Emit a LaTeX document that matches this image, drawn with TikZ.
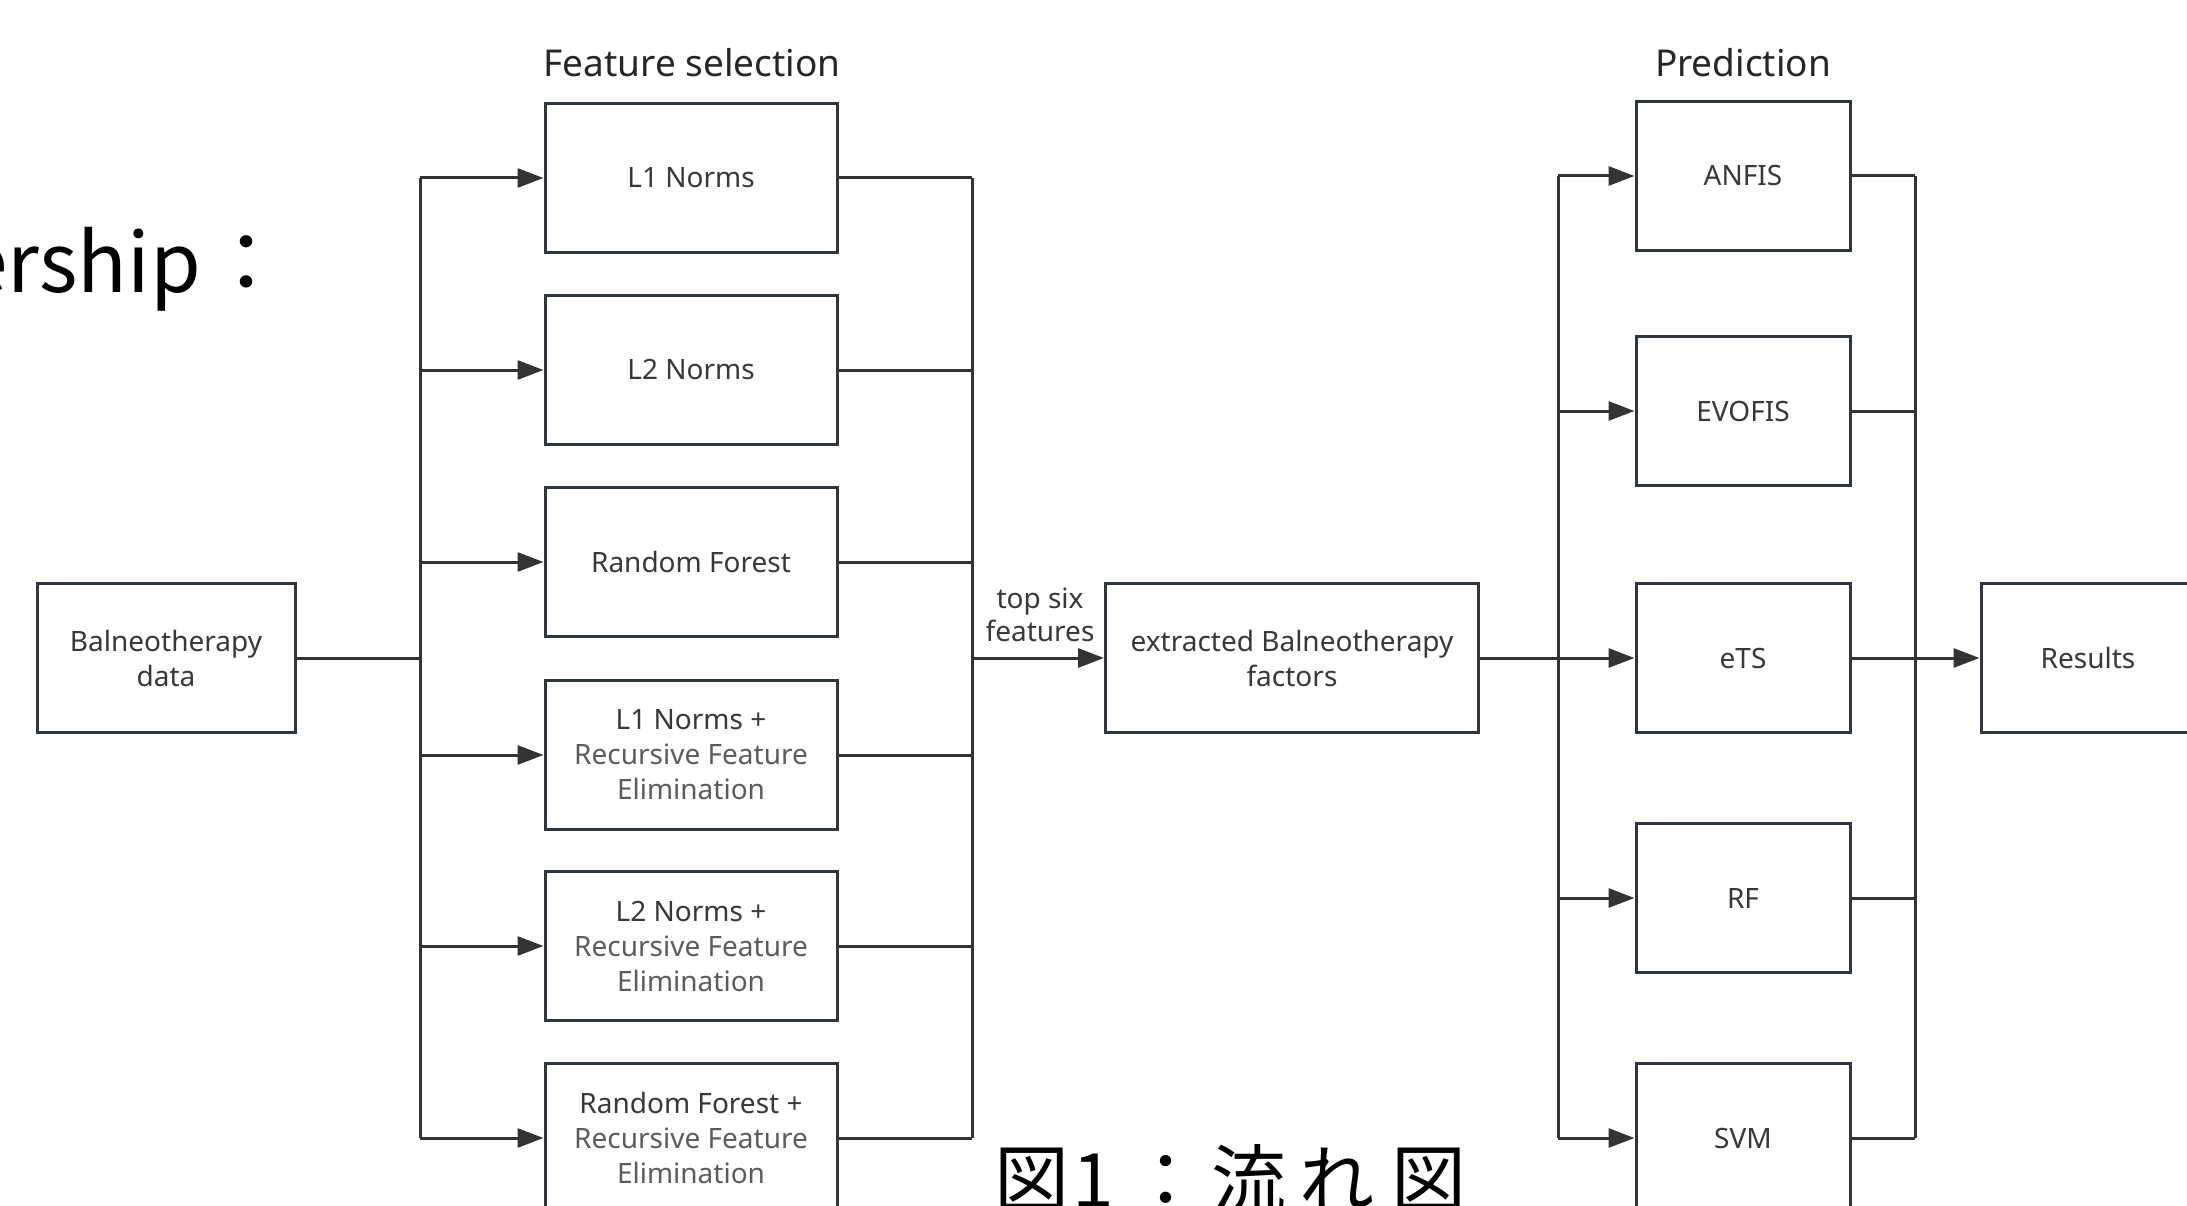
\documentclass[tikz,border=0pt]{standalone}
\usepackage{fontspec}
\setmainfont{Noto Sans}
\newfontfamily\cjk{Noto Sans CJK JP}
\usetikzlibrary{arrows.meta}
\definecolor{linec}{HTML}{333333}
\definecolor{boxc}{HTML}{30363D}
\definecolor{txtc}{HTML}{383838}
\definecolor{txtl}{HTML}{5C5C5C}
\begin{document}
\begin{tikzpicture}[x=1pt,y=-1pt,
  box/.style={draw=boxc,line width=3pt,fill=white,inner sep=0pt,align=center,text=txtc,font=\fontsize{28}{35}\selectfont},
  fbox/.style={box,minimum width=292pt,minimum height=149pt},
  pbox/.style={box,minimum width=214pt,minimum height=149pt},
  conn/.style={draw=linec,line width=3pt},
  arr/.style={conn,-{Triangle[length=26pt,width=19pt]}},
  hdr/.style={font=\fontsize{37}{42}\selectfont,text=black!85,inner sep=0pt},
  bigtxt/.style={text=black,inner sep=0pt}]
\useasboundingbox (0,0) rectangle (2187,1206);
\clip (0,0) rectangle (2187,1206);
\fill[white] (0,0) rectangle (2187,1206);

% big document text (cropped)
\node[bigtxt,font=\cjk\fontsize{82}{90}\selectfont,anchor=base east] (doc1) at (288,293) {ership\hspace{5pt}：};
\node[bigtxt,font=\cjk\fontsize{75}{80}\selectfont,anchor=base west] (doc2) at (994,1207)
  {図\hspace{3pt}1\hspace{15pt}：\hspace{8pt}流\hspace{13pt}れ\hspace{17pt}図};

% headers
\node[hdr] (hfs) at (692,63) {Feature selection};
\node[hdr] (hpr) at (1743,63) {Prediction};

% nodes
\node[box,minimum width=258pt,minimum height=149pt] (bal) at (166,658) {Balneotherapy\\data};
\node[fbox] (f1) at (691,178) {L1 Norms};
\node[fbox] (f2) at (691,370) {L2 Norms};
\node[fbox] (f3) at (691,562) {Random Forest};
\node[fbox] (f4) at (691,755) {L1 Norms +\\\textcolor{txtl}{Recursive Feature}\\\textcolor{txtl}{Elimination}};
\node[fbox] (f5) at (691,946) {L2 Norms +\\\textcolor{txtl}{Recursive Feature}\\\textcolor{txtl}{Elimination}};
\node[fbox] (f6) at (691,1138) {Random Forest +\\\textcolor{txtl}{Recursive Feature}\\\textcolor{txtl}{Elimination}};
\node[box,minimum width=373pt,minimum height=149pt] (ext) at (1292,658) {extracted Balneotherapy\\factors};
\node[pbox] (p1) at (1743,176) {ANFIS};
\node[pbox] (p2) at (1743,411) {EVOFIS};
\node[pbox] (p3) at (1743,658) {eTS};
\node[pbox] (p4) at (1743,898) {RF};
\node[pbox] (p5) at (1743,1138) {SVM};
\node[pbox] (res) at (2088,658) {Results};

\coordinate (lb) at (420,658);
\coordinate (rb) at (972,658);
\coordinate (pl) at (1558,658);
\coordinate (pr) at (1915,658);

% feature selection fan-out
\draw[conn] (bal.east) -- (lb);
\draw[conn] (lb |- f1.west) -- (lb |- f6.west);
\foreach \n in {f1,f2,f3,f4,f5,f6}{
  \draw[arr] (lb |- \n.west) -- (\n.west);
  \draw[conn] (\n.east) -- (rb |- \n.east);
}
\draw[conn] (rb |- f1.east) -- (rb |- f6.east);
\draw[arr] (rb) -- (ext.west);
\node[font=\fontsize{28}{33}\selectfont,text=txtc,align=center,inner sep=0pt] (lbl) at (1040,615) {top six\\features};

% prediction fan-out
\draw[conn] (ext.east) -- (pl);
\draw[conn] (pl |- p1.west) -- (pl |- p5.west);
\foreach \n in {p1,p2,p3,p4,p5}{
  \draw[arr] (pl |- \n.west) -- (\n.west);
  \draw[conn] (\n.east) -- (pr |- \n.east);
}
\draw[conn] (pr |- p1.east) -- (pr |- p5.east);
\draw[arr] (pr) -- (res.west);
\end{tikzpicture}
\end{document}
